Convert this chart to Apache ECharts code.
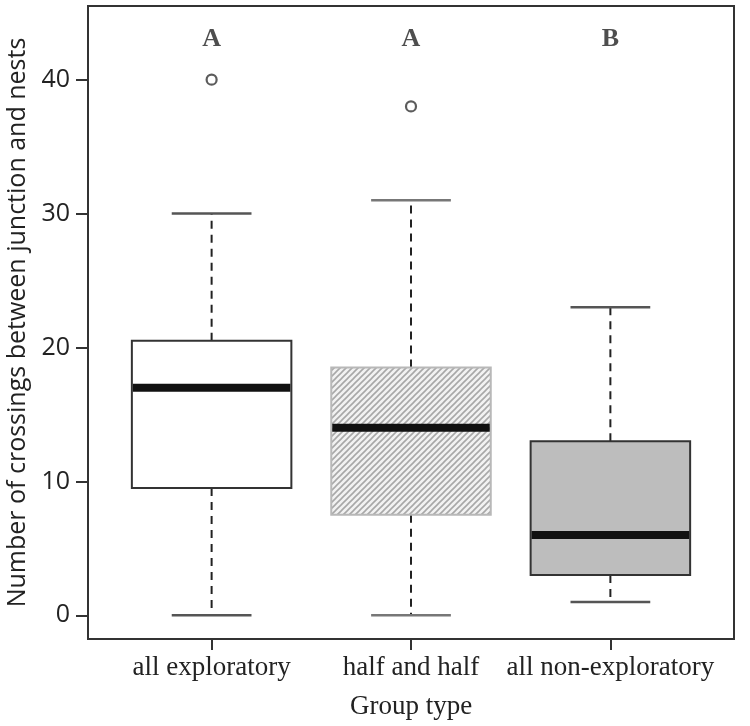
<!DOCTYPE html>
<html>
<head>
<meta charset="utf-8">
<script src="https://cdn.jsdelivr.net/npm/echarts@6/dist/echarts.min.js"></script>
<style>
html,body{margin:0;padding:0;background:#fff;}
#chart{width:750px;height:726px;}
</style>
</head>
<body>
<div id="chart"></div>
<script>
// ---- data ----
var categories = ['all exploratory', 'half and half', 'all non-exploratory'];
var lowerWhisker = [0, 0, 1];
var q1 = [9.5, 7.5, 3];
var median = [17, 14, 6];
var q3 = [20.5, 18.5, 13];
var upperWhisker = [30, 31, 23];
var outlierGroup = [1, 2];
var outlierValue = [40, 38];
var letters = ['A', 'A', 'B'];
var letterLevel = 43;
var yTicks = [0, 10, 20, 30, 40];
var xTicks = [1, 2, 3];

// hatch pattern
function makeHatch() {
  var s = 6;
  var c = document.createElement('canvas');
  c.width = s; c.height = s;
  var g = c.getContext('2d');
  g.fillStyle = '#f2f2f2';
  g.fillRect(0, 0, s, s);
  g.strokeStyle = '#a8a8a8';
  g.lineWidth = 1.6;
  g.beginPath();
  g.moveTo(-1, s + 1); g.lineTo(s + 1, -1);
  g.moveTo(-1, 1); g.lineTo(1, -1);
  g.moveTo(s - 1, s + 1); g.lineTo(s + 1, s - 1);
  g.stroke();
  return c;
}
var hatch = makeHatch();

var boxStyles = [
  { fill: '#ffffff', stroke: '#333333', cap: '#555555' },
  { fill: { image: hatch, repeat: 'repeat' }, stroke: '#b8b8b8', cap: '#777777' },
  { fill: '#bdbdbd', stroke: '#333333', cap: '#555555' }
];

var boxData = categories.map(function (c, i) {
  return [i + 1, lowerWhisker[i], q1[i], median[i], q3[i], upperWhisker[i]];
});
var outlierData = outlierGroup.map(function (g, i) { return [g, outlierValue[i]]; });
var letterData = letters.map(function (l, i) { return [i + 1, letterLevel]; });

var chart = echarts.init(document.getElementById('chart'), null, { renderer: 'canvas' });

function renderBox(params, api) {
  var i = params.dataIndex;
  var x = api.value(0);
  var lo = api.value(1), a = api.value(2), m = api.value(3), b = api.value(4), hi = api.value(5);
  var st = boxStyles[i];
  var pLo = api.coord([x, lo]), pA = api.coord([x, a]), pM = api.coord([x, m]), pB = api.coord([x, b]), pHi = api.coord([x, hi]);
  var left = api.coord([x - 0.4, m])[0], right = api.coord([x + 0.4, m])[0];
  var capL = api.coord([x - 0.2, m])[0], capR = api.coord([x + 0.2, m])[0];
  var cx = pM[0];
  var children = [
    { type: 'line', shape: { x1: cx, y1: pB[1], x2: cx, y2: pHi[1] }, style: { stroke: '#222', lineWidth: 2, lineDash: [8, 6] } },
    { type: 'line', shape: { x1: cx, y1: pA[1], x2: cx, y2: pLo[1] }, style: { stroke: '#222', lineWidth: 2, lineDash: [8, 6] } },
    { type: 'line', shape: { x1: capL, y1: pHi[1], x2: capR, y2: pHi[1] }, style: { stroke: st.cap, lineWidth: 2.5 } },
    { type: 'line', shape: { x1: capL, y1: pLo[1], x2: capR, y2: pLo[1] }, style: { stroke: st.cap, lineWidth: 2.5 } },
    { type: 'rect', shape: { x: left, y: pB[1], width: right - left, height: pA[1] - pB[1] }, style: { fill: st.fill, stroke: st.stroke, lineWidth: 2 } },
    { type: 'line', shape: { x1: left + 1, y1: pM[1], x2: right - 1, y2: pM[1] }, style: { stroke: '#111', lineWidth: 8 } }
  ];
  return { type: 'group', children: children };
}

var option = {
  animation: false,
  backgroundColor: '#fff',
  grid: { left: 88, right: 16, top: 6, bottom: 87, show: true, borderColor: '#333', borderWidth: 2, backgroundColor: 'transparent', containLabel: false, outerBoundsMode: 'none' },
  xAxis: {
    type: 'value', min: 0.38, max: 3.62,
    axisLine: { show: false, onZero: false },
    splitLine: { show: false },
    axisTick: { show: true, length: 11, customValues: xTicks, lineStyle: { color: '#333', width: 2 } },
    axisLabel: {
      customValues: xTicks, margin: 15,
      formatter: function (v) { return categories[Math.round(v) - 1] || ''; },
      fontFamily: 'Liberation Serif', fontSize: 27, color: '#222'
    },
    name: 'Group type', nameLocation: 'middle', nameGap: 54,
    nameTextStyle: { fontFamily: 'Liberation Serif', fontSize: 27, color: '#222' }
  },
  yAxis: {
    type: 'value', min: -1.77, max: 45.5,
    axisLine: { show: false, onZero: false },
    splitLine: { show: false },
    axisTick: { show: true, length: 12, customValues: yTicks, lineStyle: { color: '#333', width: 2 } },
    axisLabel: {
      customValues: yTicks, margin: 18,
      fontFamily: 'Open Sans', fontSize: 25, color: '#222'
    },
    name: 'Number of crossings between junction and nests', nameLocation: 'middle', nameGap: 58, nameRotate: 90,
    nameTextStyle: { fontFamily: 'Open Sans', fontSize: 25, color: '#222' }
  },
  series: [
    {
      type: 'custom', renderItem: renderBox, data: boxData,
      encode: { x: 0, y: [1, 2, 3, 4, 5] }, clip: false, z: 2
    },
    {
      type: 'scatter', data: outlierData, symbol: 'circle', symbolSize: 10,
      itemStyle: { color: '#fff', borderColor: '#333', borderWidth: 2.2 }, z: 3
    },
    {
      type: 'scatter', data: letterData, symbolSize: 0,
      label: {
        show: true, position: 'inside',
        formatter: function (p) { return letters[p.dataIndex]; },
        fontFamily: 'Liberation Serif', fontSize: 26, fontWeight: 'bold', color: '#222'
      }, z: 3
    }
  ]
};
chart.setOption(option);
</script>
</body>
</html>
